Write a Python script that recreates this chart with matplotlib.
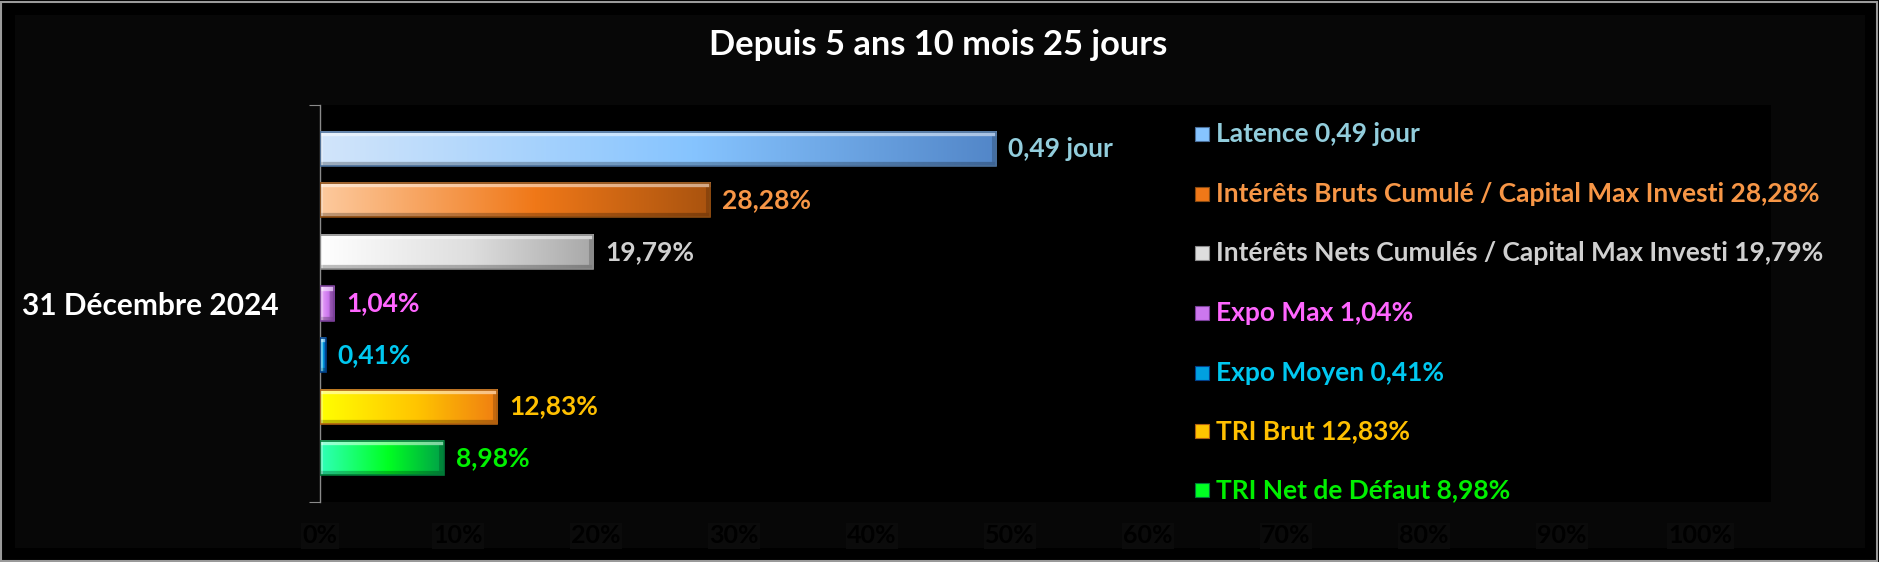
import numpy as np
import matplotlib
matplotlib.use("Agg")
import matplotlib.pyplot as plt
from matplotlib.colors import to_rgb
from matplotlib.patches import Rectangle

plt.rcParams['font.family'] = ['Lato', 'DejaVu Sans']
plt.rcParams['font.weight'] = 'bold'

# donnees
titre = "Depuis 5 ans 10 mois 25 jours"
categorie = "31 Décembre 2024"
noms = ["Latence", "Intérêts Bruts Cumulé / Capital Max Investi",
        "Intérêts Nets Cumulés / Capital Max Investi", "Expo Max",
        "Expo Moyen", "TRI Brut", "TRI Net de Défaut"]
valeurs = [0.49, 0.2828, 0.1979, 0.0104, 0.0041, 0.1283, 0.0898]
etiquettes = ["0,49 jour", "28,28%", "19,79%", "1,04%", "0,41%", "12,83%", "8,98%"]
ticks_x = [0.0, 0.1, 0.2, 0.3, 0.4, 0.5, 0.6, 0.7, 0.8, 0.9, 1.0]
ticks_lbl = ["0%", "10%", "20%", "30%", "40%", "50%", "60%", "70%", "80%", "90%", "100%"]

# couleurs du degrade (gauche, milieu, droite), bord, texte
degrades = [("#d2e5fa", "#86c4ff", "#5286c8"),
            ("#fdca9e", "#f07818", "#a9530f"),
            ("#ffffff", "#dedede", "#a8a8a8"),
            ("#eaa6fa", "#cc77ee", "#9a55bb"),
            ("#40d4ff", "#00a0e0", "#0050b0"),
            ("#ffff00", "#ffc400", "#f07e12"),
            ("#30ffb8", "#00ff22", "#00a048")]
bords = ["#4a6f9a", "#8a4a10", "#8a8a8a", "#7a3f99", "#00408a", "#b06010", "#007a38"]
couleurs_txt = ["#92cddc", "#f79646", "#d0d0d0", "#ff66ff", "#00c8f0", "#ffc000", "#00f000"]

W, H = 1879, 562
fig = plt.figure(figsize=(W / 100, H / 100), dpi=100, facecolor="black")

# cadre (derriere les axes)
fig.patches.append(Rectangle((1 / W, 1 / H), 1 - 3 / W, 1 - 3 / H, transform=fig.transFigure,
                             facecolor="black", edgecolor="#9a9a9a", lw=1.5, zorder=-2))
fig.patches.append(Rectangle((15 / W, 1 - 548 / H), 1850 / W, 533 / H, transform=fig.transFigure,
                             facecolor="#070707", edgecolor="none", zorder=-1))

x0, x1, y0, y1 = 320, 1771, 105, 502
ax = fig.add_axes([x0 / W, 1 - y1 / H, (x1 - x0) / W, (y1 - y0) / H])
ax.set_facecolor("black")
px_par_unite = 1380.0

haut = 0.66
pos = np.arange(len(valeurs))
barres = ax.barh(pos, valeurs, height=haut, color="none", edgecolor=bords, lw=1.2, zorder=3)


def image_barre(cols, largeur_px, hauteur_px=34):
    c = np.array([to_rgb(k) for k in cols])
    t = np.linspace(0, 1, largeur_px)
    img = np.zeros((hauteur_px, largeur_px, 3))
    for k in range(3):
        img[:, :, k] = np.interp(t, [0, 0.55, 1], c[:, k])[None, :]
    # biseau
    b = 5
    img[:b, :, :] = img[:b, :, :] * 0.5 + 0.5
    img[-4:, :, :] *= 0.75
    img[:, :3, :] = img[:, :3, :] * 0.7 + 0.3
    if largeur_px > 10:
        img[b:-4, -b:, :] *= 0.82
    return np.clip(img, 0, 1)


for i, (v, cols) in enumerate(zip(valeurs, degrades)):
    wpx = max(int(round(v * px_par_unite)), 3)
    ax.imshow(image_barre(cols, wpx), extent=(0, v, i + haut / 2, i - haut / 2),
              aspect="auto", interpolation="bilinear", zorder=2)
    ax.text(v + 12 / px_par_unite, i, etiquettes[i], color=couleurs_txt[i],
            fontsize=19, fontweight="bold", va="center", ha="left", zorder=4)

ax.set_xlim(0, (x1 - x0) / px_par_unite)
ax.set_ylim(6.85, -0.85)

for s in ["top", "right", "bottom"]:
    ax.spines[s].set_visible(False)
ax.spines["left"].set_color("#8a8a8a")
ax.spines["left"].set_linewidth(1)

# etiquettes de l'axe x presque invisibles (noir sur noir)
ax.set_xticks(ticks_x, ticks_lbl)
ax.tick_params(axis="x", length=0, pad=16, labelsize=18, labelcolor="#000000")
for t in ax.get_xticklabels():
    t.set_bbox(dict(facecolor="#0b0b0b", edgecolor="none", pad=1))

ax.set_yticks([-0.85, 6.85], ["", ""])
ax.tick_params(axis="y", which="major", length=8, color="#8a8a8a", direction="out")
ax.set_yticks([3], [categorie], minor=True)
ax.tick_params(axis="y", which="minor", length=0, pad=30, labelsize=21.5, labelcolor="white")

fig.text(938 / W, 1 - 45 / H, titre, color="white", fontsize=24.8, fontweight="bold",
         ha="center", va="center")

# legende
lignes_y = [134, 194, 253, 313, 373, 431, 490]
for i, ly in enumerate(lignes_y):
    fig.patches.append(Rectangle((1195 / W, 1 - (ly + 7) / H), 14 / W, 14 / H,
                                 transform=fig.transFigure, facecolor=degrades[i][1],
                                 edgecolor=bords[i], lw=0.8))
    fig.text(1216 / W, 1 - ly / H, noms[i] + " " + etiquettes[i], color=couleurs_txt[i],
             fontsize=19, fontweight="bold", ha="left", va="center")

fig.savefig("out.png", dpi=100, facecolor="black")
